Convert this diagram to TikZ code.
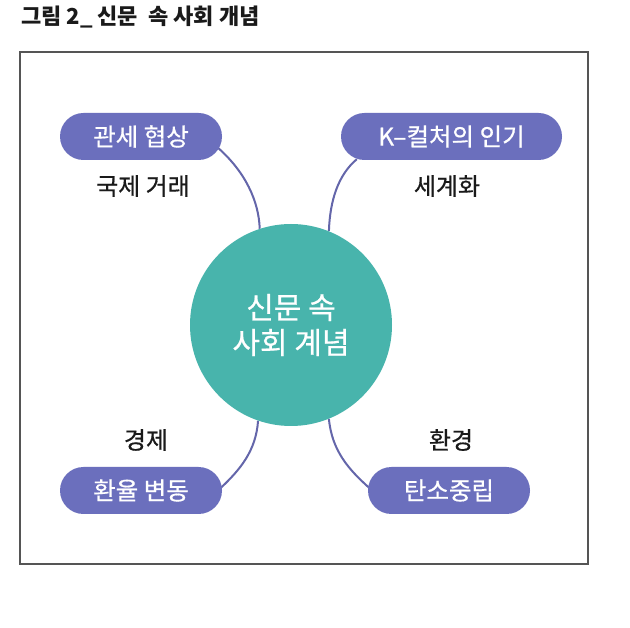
\documentclass[tikz,border=0pt]{standalone}
\usepackage{fontspec}
\setmainfont{Noto Sans CJK KR}
\newfontfamily\medfont{Noto Sans CJK KR}[FakeBold=0.6]
\usetikzlibrary{calc}
\pgfdeclarelayer{bg}
\pgfsetlayers{bg,main}
\definecolor{pillc}{HTML}{6B6FBD}
\definecolor{tealc}{HTML}{48B4AC}
\definecolor{connc}{HTML}{6466AA}
\definecolor{framec}{HTML}{555555}
\definecolor{txtc}{HTML}{1A1A1A}
\tikzset{
  pill/.style={rectangle, rounded corners=23.5pt, fill=pillc, minimum width=162pt, minimum height=47pt, inner sep=0pt, text=white, font=\medfont\fontsize{24.5}{28}\selectfont},
  lbl/.style={text=txtc, inner sep=0pt, font=\medfont\fontsize{24}{28}\selectfont},
  conn/.style={draw=connc, line width=2pt},
  framebox/.style={draw=framec, line width=1.3pt}
}
\begin{document}
\begin{tikzpicture}[x=1pt,y=-1pt]
\useasboundingbox (0,0) rectangle (630,628);
\node[anchor=west, inner sep=0pt, text=txtc, font=\bfseries\fontsize{22}{24}\selectfont] (title) at (21,17) {그림 2\_ 신문\ \ 속 사회 개념};
\draw[framebox] (20,52) rectangle (588,564);
\node[circle, fill=tealc, minimum size=202pt, inner sep=0pt, align=center, text=white, font=\medfont\fontsize{30}{35}\selectfont] (c) at (291,325) {신문 속\\사회 계념};
\node[pill] (p1) at (141,136.5) {\raisebox{-1.5pt}{관세 협상}};
\node[pill, minimum width=221pt] (p2) at (451.5,136.5) {\raisebox{-1.5pt}{K–컬처의 인기}};
\node[pill] (p3) at (141,490.5) {\raisebox{-1.5pt}{환율 변동}};
\node[pill] (p4) at (449,490.5) {\raisebox{-1.5pt}{탄소중립}};
\node[lbl] (l1) at (143,186) {국제 거래};
\node[lbl] (l2) at (447,186) {세계화};
\node[lbl] (l3) at (146,440) {경제};
\node[lbl] (l4) at (451,440) {환경};
\begin{pgfonlayer}{bg}
\fill[white] (0,0) rectangle (630,628);
\draw[conn] ($(p1.east)+(-4,11.5)$) .. controls +(27,24) and +(-1,-28) .. (c.108);
\draw[conn] (c.68) .. controls +(1,-30) and +(-19,16) .. ($(p2.south west)+(16,-1)$);
\draw[conn] (c.251) .. controls +(-2,30) and +(19,-18) .. ($(p3.east)+(-1,-3)$);
\draw[conn] (c.-68) .. controls +(3,32) and +(-20,-18) .. ($(p4.west)+(1,-3)$);
\end{pgfonlayer}
\end{tikzpicture}
\end{document}
